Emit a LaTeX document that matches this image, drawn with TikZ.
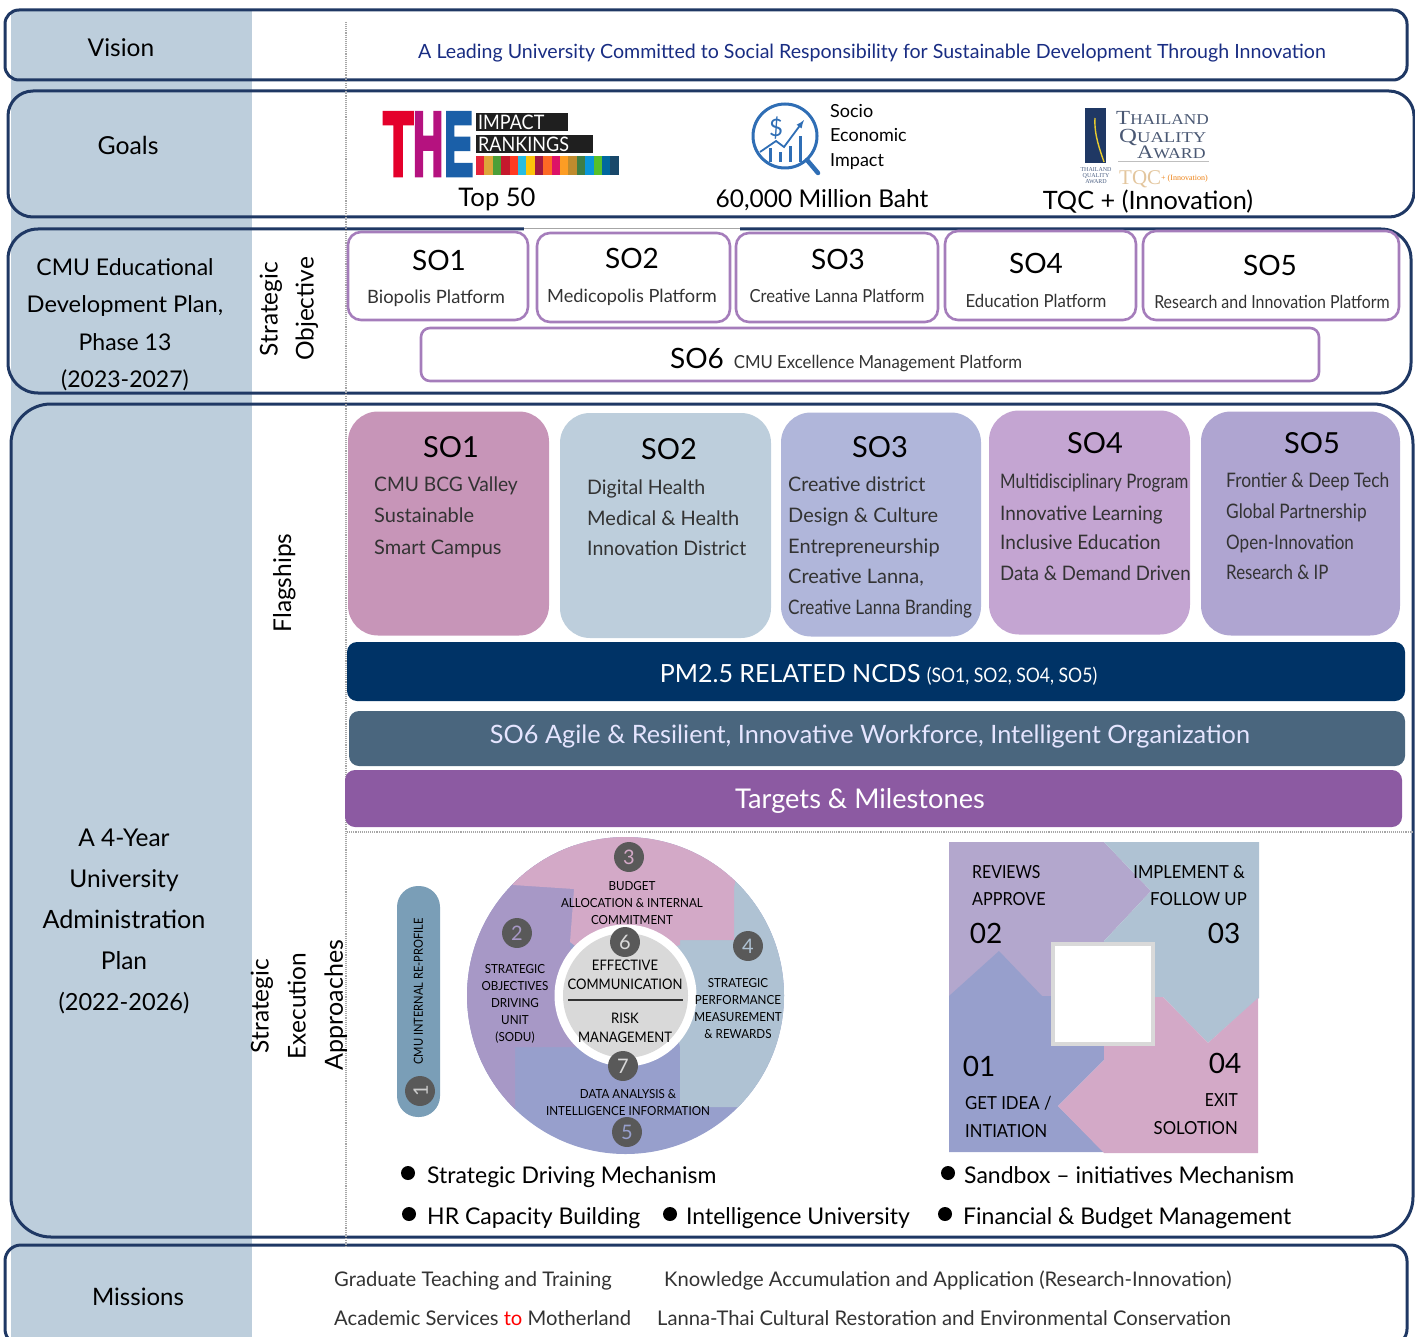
\documentclass[tikz,border=0pt]{standalone}
\usepackage{graphicx}
\usepackage{fontspec}
\setmainfont{Lato}
\newfontfamily\serifthai{Liberation Serif}
\newfontfamily\logofont[BoldFeatures={FakeBold=5}]{Liberation Sans}
\newcommand{\fs}[1]{\fontsize{#1}{#1}\selectfont}
\newcommand{\hsq}[2]{\scalebox{#1}[1]{#2}}
\newcommand{\txtstrut}{\rule[-.3em]{0pt}{1.38em}}
\definecolor{navy}{HTML}{1F3864}
\definecolor{bandblue}{HTML}{BDCEDC}
\definecolor{sopurple}{HTML}{A57DBB}
\definecolor{badgegrey}{HTML}{595959}
\definecolor{tpink}{HTML}{D3A9C7}
\definecolor{tpurple}{HTML}{A798C6}
\definecolor{tblue}{HTML}{AFC2D3}
\definecolor{tperi}{HTML}{979FCC}
\definecolor{qpurple}{HTML}{B3A7CD}
\definecolor{socioblue}{HTML}{2F6EB5}
\definecolor{tqaink}{HTML}{4A5873}
\begin{document}
\begin{tikzpicture}[x=1pt,y=-1pt]
\tikzset{every node/.append style = {execute at begin node=\txtstrut}}
\tikzset{frame/.style = {shape=rectangle,draw=navy,line width=3pt,minimum width=#1}}
\tikzset{sobox/.style = {shape=rectangle,draw=sopurple,line width=2.6pt,fill=white,rounded corners=13pt}}
\tikzset{flagbox/.style = {shape=rectangle,rounded corners=30pt,minimum width=200pt,minimum height=224pt}}
\tikzset{barbox/.style = {shape=rectangle,rounded corners=10pt,text=white}}
\tikzset{lbl/.style = {inner sep=0pt,font=\fs{24.5}}}
\tikzset{lefttxt/.style = {inner sep=0pt,anchor=west}}
\tikzset{righttxt/.style = {inner sep=0pt,anchor=east}}
\tikzset{badge/.style = {shape=circle,fill=badgegrey,minimum size=29pt,inner sep=0pt,font=\fs{20}}}
\tikzset{dotline/.style = {draw=gray!70,line width=1.1pt,densely dotted}}
\useasboundingbox (0,0) rectangle (1415,1337);

% band behind the frames
\fill[bandblue] (11,10) rectangle (252,1337);

% frames
\node[frame=1402pt,minimum height=70pt,rounded corners=14pt] (visionframe) at (706,45) {};
\node[frame=1406pt,minimum height=126pt,rounded corners=25pt] (goalsframe) at (711,154) {};
\node[frame=1403pt,minimum height=164pt,rounded corners=30pt] (planframe) at (709.5,311) {};
\node[frame=1402pt,minimum height=833pt,rounded corners=40pt] (adminframe) at (712,820.5) {};
\node[frame=1402pt,minimum height=100pt,rounded corners=16pt] (missionframe) at (706,1295) {};
\draw[white,line width=3.6pt] (524,229) -- (740,229);
\draw[gray!70,line width=0.6pt] (524,228) -- (740,228);

\draw[dotline] (346,22) -- (346,1247);
\draw[dotline] (347,832) -- (1412,832);

% left column
\node[lbl] (vision) at (121,47) {Vision};
\node[lbl,font=\fs{24.8}] (goals) at (128,145) {Goals};
\node[lbl,font=\fs{23}] (cmu1) at (125,267) {CMU Educational};
\node[lbl,font=\fs{23}] (cmu2) at (125,304) {\hsq{1.03}{Development Plan,}};
\node[lbl,font=\fs{23}] (cmu3) at (125,342) {Phase 13};
\node[lbl,font=\fs{23}] (cmu4) at (125,379) {(2023-2027)};
\node[lbl] (adm1) at (124,837) {A 4-Year};
\node[lbl] (adm2) at (124,878) {University};
\node[lbl,font=\fs{25.2}] (adm3) at (124,919) {Administration};
\node[lbl] (adm4) at (124,960) {Plan};
\node[lbl,font=\fs{23.6}] (adm5) at (124,1001) {(2022-2026)};
\node[lbl,font=\fs{24}] (missions) at (138,1296) {Missions};

% rotated labels
\node[lbl,rotate=90] (strat) at (268,309) {Strategic};
\node[lbl,rotate=90] (objective) at (304,309) {Objective};
\node[lbl,rotate=90] (flagships) at (281.5,583) {Flagships};
\node[lbl,rotate=90] (execa) at (259,1006) {Strategic};
\node[lbl,rotate=90] (execb) at (296,1006) {Execution};
\node[lbl,rotate=90,font=\fs{25}] (execc) at (333,1005) {Approaches};

% vision and goals
\node[inner sep=0pt,text=navy!80!blue,font=\fs{19.6}] (visiontxt) at (872,51) {A Leading University Committed to Social Responsibility for Sustainable Development Through Innovation};
\node[lbl,font=\fs{25.6}] (top) at (497,197) {Top 50};
\node[lbl] (baht) at (822,198) {60,000 Million Baht};
\node[lbl,font=\fs{25.3}] (tqc) at (1148,200) {TQC + (Innovation)};

% THE logo
\node[inner sep=0pt,anchor=north west,text={rgb,255:red,228;green,0;blue,43}] (theT) at (383,113) {\resizebox{30pt}{62pt}{\logofont\bfseries T}};
\node[inner sep=0pt,anchor=north west,text={rgb,255:red,181;green,18;blue,127}] (theH) at (413,113) {\resizebox{30pt}{62pt}{\logofont\bfseries H}};
\node[inner sep=0pt,anchor=north west,text={rgb,255:red,26;green,95;blue,168}] (theE) at (444,113) {\resizebox{29pt}{62pt}{\logofont\bfseries E}};
\fill[black!88] (476,113) rectangle (568,131);
\fill[black!88] (476,135) rectangle (593,153);
\node[lefttxt,text=white,font=\fs{20}] (impact) at (478,122) {\hsq{.9}{IMPACT}};
\node[lefttxt,text=white,font=\fs{20}] (rankings) at (478,144) {\hsq{.9}{RANKINGS}};
\foreach \c [count=\i from 0] in {E5243B,DDA63A,4C9F38,C5192D,FF3A21,26BDE2,FCC30B,A21942,FD6925,DD1367,FD9D24,BF8B2E,3F7E44,0A97D9,56C02B,00689D,19486A}{
  \definecolor{sdg}{HTML}{\c}
  \fill[sdg] ({476+\i*8.4},156) rectangle ({476+(\i+1)*8.4},175);
}

% socio economic logo
\draw[socioblue,line width=3pt] (785,136) circle (32pt);
\draw[socioblue,line width=4.5pt,line cap=round] (807,160) -- (818,173);
\node[inner sep=0pt,text=socioblue,font=\fs{24}] (dollar) at (776,127) {\$};
\foreach \x/\h in {770/148,780/152,790/146,800/136}
  \draw[socioblue,line width=3pt] (\x,162) -- (\x,\h);
\draw[socioblue,line width=1.8pt,-latex] (760,152) -- (776,141) -- (784,147) -- (804,120);
\node[lefttxt,font=\fs{18}] (socio) at (830,110) {Socio};
\node[lefttxt,font=\fs{18}] (economic) at (830,134) {Economic};
\node[lefttxt,font=\fs{18}] (impacttxt) at (830,159) {Impact};

% quality award logo
\fill[navy] (1085,108) rectangle (1106,163);
\draw[yellow!60!brown,line width=1.4pt] (1095,118) .. controls (1094,135) and (1100,150) .. (1104,162);
\node[inner sep=0pt,text=navy!80,align=center,font=\serifthai\fs{6}] (tqasmall) at (1096,176) {THAILAND\\QUALITY\\AWARD};
\node[lefttxt,text=tqaink,font=\serifthai\fs{9}] (tq1) at (1116,119) {\hsq{1.15}{\fs{20}T\fs{15}HAILAND}};
\node[lefttxt,text=tqaink,font=\serifthai\fs{9}] (tq2) at (1119,138) {\hsq{1.24}{\fs{20}Q\fs{15}UALITY}};
\node[lefttxt,text=tqaink,font=\serifthai\fs{9}] (tq3) at (1137,154) {\hsq{1.18}{\fs{19}A\fs{15}WARD}};
\draw[gray!50,line width=1pt] (1118,162) -- (1209,162);
\node[lefttxt,text={rgb,255:red,227;green,198;blue,158},font=\serifthai\fs{21}] (tqclogo) at (1119,176) {TQC};
\node[lefttxt,text=orange!70!brown,font=\serifthai\fs{8}] (tqcplus) at (1161,177) {+ (Innovation)};

% strategic objective boxes
\node[sobox,minimum width=180pt,minimum height=88pt] (so1box) at (438,276) {};
\node[sobox,minimum width=193pt,minimum height=89pt] (so2box) at (633.5,277.5) {};
\node[sobox,minimum width=202pt,minimum height=89pt] (so3box) at (837,277.5) {};
\node[sobox,minimum width=191pt,minimum height=89pt] (so4box) at (1040.5,275.5) {};
\node[sobox,minimum width=256pt,minimum height=89pt] (so5box) at (1271,275.5) {};
\node[sobox,rounded corners=9pt,minimum width=898pt,minimum height=53pt] (so6box) at (870,354.5) {};
\node[lbl,font=\fs{28}] (so1) at (439,260) {SO1};
\node[lbl,font=\fs{28}] (so2) at (632,258) {SO2};
\node[lbl,font=\fs{28}] (so3) at (838,259) {SO3};
\node[lbl,font=\fs{28}] (so4) at (1036,263) {SO4};
\node[lbl,font=\fs{28}] (so5) at (1270,265) {SO5};
\node[lbl,font=\fs{28}] (so6) at (697,358) {SO6};
\node[lbl,font=\fs{18.4},text=black!80] (plat1) at (436,296) {Biopolis Platform};
\node[lbl,font=\fs{18.2},text=black!80] (plat2) at (632,295) {Medicopolis Platform};
\node[lbl,font=\fs{18},text=black!80] (plat3) at (837,295) {\hsq{.92}{Creative Lanna Platform}};
\node[lbl,font=\fs{18},text=black!80] (plat4) at (1036,300) {\hsq{.933}{Education Platform}};
\node[lbl,font=\fs{18},text=black!80] (plat5) at (1272,301) {\hsq{.886}{Research and Innovation Platform}};
\node[lbl,font=\fs{18},text=black!80] (plat6) at (878,361) {\hsq{.93}{CMU Excellence Management Platform}};

% flagships
\node[flagbox,fill={rgb,255:red,199;green,149;blue,184},minimum width=201pt] (f1) at (448.5,523.5) {};
\node[flagbox,fill=bandblue,minimum width=211pt,minimum height=225pt] (f2) at (665.5,525.5) {};
\node[flagbox,fill={rgb,255:red,176;green,182;blue,218}] (f3) at (881,524.5) {};
\node[flagbox,fill={rgb,255:red,196;green,165;blue,210},minimum width=201pt] (f4) at (1089.5,522.5) {};
\node[flagbox,fill={rgb,255:red,175;green,165;blue,209},minimum width=199pt] (f5) at (1300.5,523.5) {};
\node[lbl,font=\fs{29}] (f1t) at (451,446) {SO1};
\node[lbl,font=\fs{29}] (f2t) at (669,448) {SO2};
\node[lbl,font=\fs{29}] (f3t) at (880,446) {SO3};
\node[lbl,font=\fs{29}] (f4t) at (1095,442) {SO4};
\node[lbl,font=\fs{29}] (f5t) at (1312,442) {SO5};
\foreach \x/\y/\s/\t in {374/484/.96/CMU BCG Valley,374/515/1/Sustainable,374/547/1/Smart Campus,
  587/487/.98/Digital Health,587/518/1/Medical \& Health,587/548/.975/Innovation District,
  788/484/.985/Creative district,788/515/1/Design \& Culture,788/546/1/Entrepreneurship,788/576/1/{Creative Lanna,},788/607/.856/Creative Lanna Branding,
  1000/481/.84/Multidisciplinary Program,1000/513/.947/Innovative Learning,1000/542/.95/Inclusive Education,1000/573/.93/Data \& Demand Driven,
  1226/480/.87/Frontier \& Deep Tech,1226/511/.865/Global Partnership,1226/542/.853/Open-Innovation,1226/572/.843/Research \& IP}
  \node[lefttxt,text=black!80,font=\fs{20}] at (\x,\y) {\hsq{\s}{\t}};

% bars
\node[barbox,fill={rgb,255:red,0;green,51;blue,102},minimum width=1058pt,minimum height=59pt] (pmbar) at (876,671.5) {};
\node[barbox,fill={rgb,255:red,74;green,102;blue,126},minimum width=1056pt,minimum height=55pt] (agilebar) at (877,738.5) {};
\node[barbox,fill={rgb,255:red,140;green,90;blue,162},minimum width=1057pt,minimum height=57pt] (targetbar) at (873.5,798.5) {};
\node[inner sep=0pt,text=white,font=\fs{25}] (pmtxt) at (878.5,673) {PM2.5 RELATED NCDS \fs{20}\hsq{.88}{(SO1, SO2, SO4, SO5)}};
\node[inner sep=0pt,text=white!90!blue,font=\fs{25.3}] (agiletxt) at (870,734) {SO6 Agile \& Resilient, Innovative Workforce, Intelligent Organization};
\node[inner sep=0pt,text=white,font=\fs{27.2}] (targettxt) at (860,798) {Targets \& Milestones};

% re-profile pill
\node[shape=rectangle,rounded corners=21pt,fill={rgb,255:red,122;green,158;blue,183},minimum width=43pt,minimum height=231pt] (pill) at (418.5,1001.5) {};
\node[lbl,font=\fs{12.5},rotate=90] (pilltxt) at (418,991.5) {\hsq{.89}{CMU INTERNAL RE-PROFILE}};

% wheel
\begin{scope}
\clip (625.5,995.5) circle (158.5pt);
\fill[tperi] (460,830) rectangle (790,1160);
\fill[tpurple] (460,830) -- (574,830) -- (574,889) -- (570,945) -- (590,1047) -- (515,1047) -- (515,1160) -- (460,1160) -- cycle;
\fill[tblue] (734,830) -- (790,830) -- (790,1160) -- (737,1107) -- (680,1107) -- (680,1047) -- (660,960) -- (680,940) -- (734,940) -- cycle;
\fill[tpink] (513,885) -- (574,889) -- (570,942) -- (600,965) -- (680,945) -- (680,940) -- (734,940) -- (734,888) -- (745,830) -- (490,830) -- cycle;
\end{scope}
\node[shape=circle,fill=white,minimum size=142pt,inner sep=0pt] (hubouter) at (625.5,995.5) {};
\node[shape=circle,fill={rgb,255:red,217;green,217;blue,217},minimum size=125pt,inner sep=0pt] (hub) at (625.5,995.5) {};
\draw[black!80,line width=1.4pt] (568,1000) -- (683,1000);
\node[badge,text=tpink] (b3) at (629,857) {3};
\node[badge,text=tpurple] (b2) at (517,933) {2};
\node[badge,text=white!85!black] (b6) at (625,942) {6};
\node[badge,text=tblue] (b4) at (748,946) {4};
\node[badge,text=white!85!black] (b7) at (623,1066) {7};
\node[badge,text=tperi] (b5) at (627,1132) {5};
\node[badge,text=white!80!black,rotate=90] (b1) at (420,1091) {1};
\foreach \x/\y/\t in {632/886/BUDGET,632/903/ALLOCATION \& INTERNAL,632/920/COMMITMENT,
  515/969/STRATEGIC,515/986/OBJECTIVES,515/1003/DRIVING,515/1020/UNIT,515/1037/(SODU),
  738/983/STRATEGIC,738/1000/PERFORMANCE,738/1017/MEASUREMENT,738/1034/\& REWARDS,
  628/1094/DATA ANALYSIS \&,628/1111/INTELLIGENCE INFORMATION}
  \node[inner sep=0pt,font=\fs{12.5}] at (\x,\y) {\hsq{.93}{\t}};
\foreach \y/\t in {965/EFFECTIVE,984/COMMUNICATION,1018/RISK,1037/MANAGEMENT}
  \node[inner sep=0pt,font=\fs{14.5}] at (625,\y) {\hsq{.9}{\t}};

% cycle square
\fill[qpurple] (949,842) -- (1104,842) -- (1151,891) -- (1104,941) -- (1104,996) -- (949,996) -- cycle;
\fill[tblue] (1104,842) -- (1259,842) -- (1259,998) -- (1208,1043) -- (1163,997) -- (1104,997) -- (1104,941) -- (1151,891) -- cycle;
\fill[tperi] (949,996) -- (999,951) -- (1042,996) -- (1104,996) -- (1104,1060) -- (1058,1106) -- (1104,1152) -- (949,1152) -- cycle;
\fill[tpink] (1104,997) -- (1163,997) -- (1208,1043) -- (1258,998) -- (1258,1153) -- (1104,1153) -- (1058,1106) -- (1104,1060) -- cycle;
\node[shape=rectangle,draw={rgb,255:red,217;green,217;blue,217},line width=4pt,fill=white,minimum size=100pt] (square) at (1102.5,994) {};
\node[lefttxt,font=\fs{18}] (rev) at (972,871) {\hsq{.88}{REVIEWS}};
\node[lefttxt,font=\fs{18}] (app) at (972,898) {\hsq{.9}{APPROVE}};
\node[righttxt,font=\fs{18}] (imp) at (1245,871) {\hsq{.92}{IMPLEMENT \&}};
\node[righttxt,font=\fs{18}] (fol) at (1247,898) {\hsq{.93}{FOLLOW UP}};
\node[lefttxt,font=\fs{18}] (get) at (965,1102) {\hsq{.93}{GET IDEA /}};
\node[lefttxt,font=\fs{18}] (int) at (965,1130) {\hsq{.92}{INTIATION}};
\node[righttxt,font=\fs{18}] (exi) at (1238,1099) {\hsq{.87}{EXIT}};
\node[righttxt,font=\fs{18}] (sol) at (1238,1127) {\hsq{.93}{SOLOTION}};
\node[lbl,font=\fs{28}] (n2) at (986,933) {02};
\node[lbl,font=\fs{28}] (n3) at (1224,933) {03};
\node[lbl,font=\fs{28}] (n1) at (979,1066) {01};
\node[lbl,font=\fs{28}] (n4) at (1225,1063) {04};

% bullets
\foreach \bx/\by/\x/\y/\t in {408/1173/427/1175/Strategic Driving Mechanism,409/1214/427/1216/HR Capacity Building,670/1214/686/1216/Intelligence University,948/1173/964/1175/Sandbox -- initiatives Mechanism,945/1214/963/1216/Financial \& Budget Management}{
  \fill (\bx,\by) circle (7pt);
  \node[lefttxt,font=\fs{23}] at (\x,\y) {\t};
}

% missions
\node[lefttxt,font=\fs{20.2},text=black!80] (m1) at (334,1279) {Graduate Teaching and Training};
\node[lefttxt,font=\fs{20.2},text=black!80] (m2) at (664,1279) {Knowledge Accumulation and Application (Research-Innovation)};
\node[lefttxt,font=\fs{20.2},text=black!80] (m3) at (334,1318) {Academic Services \textcolor{red}{to} Motherland};
\node[lefttxt,font=\fs{20.2},text=black!80] (m4) at (657,1318) {Lanna-Thai Cultural Restoration and Environmental Conservation};
\end{tikzpicture}
\end{document}
